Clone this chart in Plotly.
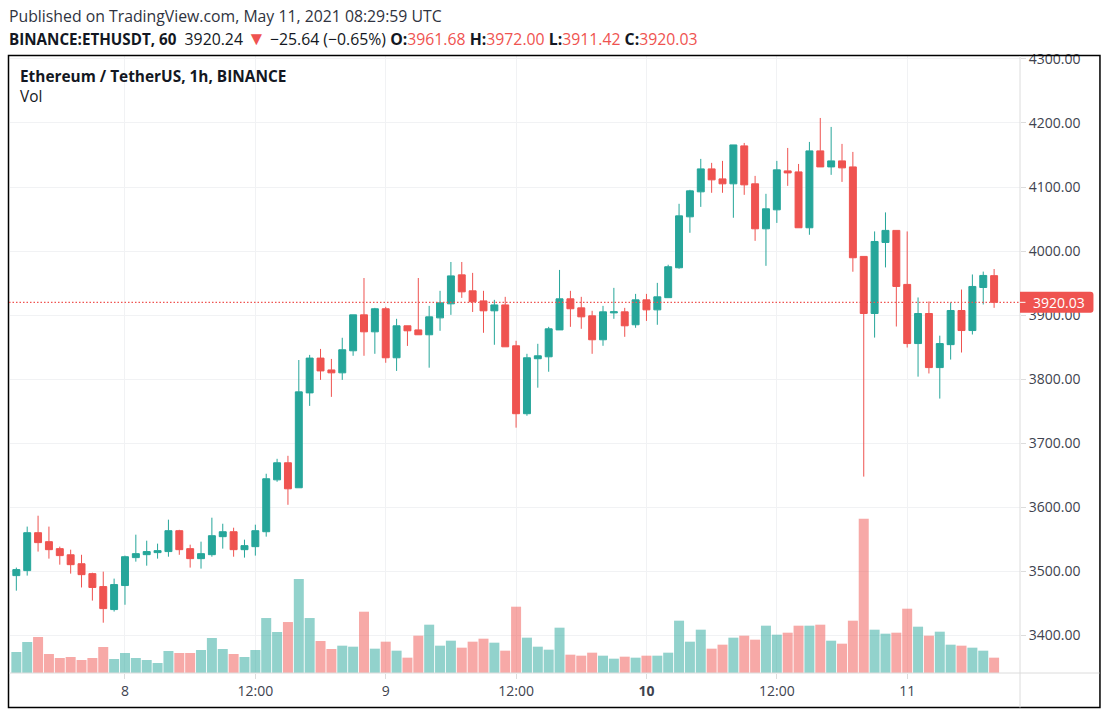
import pandas as pd
import plotly.graph_objects as go

UP = "#26a69a"
DOWN = "#ef5350"
GRID = "#f1f2f4"
AXIS = "#dcdcdc"
TEXT = "#131722"
FONT = "Open Sans"

W, H = 1109, 717
LEFT, RIGHT, TOP, BOTTOM = 10, 1020.5, 56, 673.5

# hourly candles
start = "2021-05-07 14:00"
opens = [
    3493.5, 3501.3, 3560.5, 3546.5, 3535.6, 3526.0, 3512.0, 3496.6, 3476.4, 3440.5,
    3478.0, 3521.6, 3526.2, 3529.4, 3531.0, 3563.6, 3535.6, 3520.0, 3526.2, 3554.3,
    3562.0, 3534.0, 3538.7, 3562.0, 3643.0, 3669.6, 3630.6, 3778.7, 3833.0, 3814.5,
    3810.0, 3844.4, 3900.5, 3874.0, 3910.0, 3833.5, 3883.4, 3877.0, 3869.4, 3895.8,
    3917.7, 3962.9, 3938.0, 3922.3, 3906.8, 3916.0, 3852.2, 3746.2, 3832.0, 3835.0,
    3877.0, 3925.5, 3911.4, 3899.0, 3861.6, 3903.6, 3905.2, 3885.0, 3923.9, 3908.3,
    3927.3, 3974.0, 4053.5, 4092.5, 4128.3, 4112.7, 4105.0, 4164.2, 4105.0, 4034.8,
    4064.4, 4125.2, 4123.6, 4036.4, 4156.4, 4131.4, 4140.8, 4131.4, 3991.7, 3902.6,
    4013.5, 4032.3, 3948.0, 3855.7, 3902.6, 3818.2, 3854.0, 3907.3, 3876.0, 3943.2,
    3961.68,
]
highs = [
    3506.0, 3570.0, 3587.0, 3570.0, 3538.7, 3534.0, 3526.0, 3498.0, 3499.7, 3488.8,
    3524.7, 3557.4, 3548.0, 3543.4, 3580.8, 3565.0, 3541.8, 3546.5, 3583.9, 3574.5,
    3568.3, 3549.6, 3573.0, 3652.5, 3675.8, 3680.5, 3830.0, 3838.0, 3847.3, 3831.7,
    3864.7, 3900.5, 3958.0, 3911.4, 3913.0, 3894.3, 3883.4, 3958.0, 3914.5, 3938.0,
    3983.0, 3983.0, 3966.0, 3938.0, 3923.9, 3928.6, 3860.0, 3839.7, 3855.3, 3881.8,
    3970.6, 3938.0, 3928.6, 3906.8, 3914.5, 3942.6, 3911.4, 3933.2, 3933.2, 3950.4,
    3978.7, 4073.8, 4095.6, 4143.9, 4137.7, 4140.8, 4165.7, 4168.8, 4117.4, 4089.4,
    4140.8, 4161.0, 4136.0, 4170.4, 4207.8, 4193.8, 4167.3, 4154.8, 3991.7, 4030.7,
    4060.4, 4032.3, 4030.7, 3927.6, 3921.4, 3868.0, 3919.8, 3940.0, 3963.5, 3968.0,
    3972.0,
]
lows = [
    3470.0, 3493.5, 3531.0, 3520.0, 3510.6, 3496.6, 3475.0, 3454.5, 3420.0, 3437.4,
    3448.0, 3515.3, 3509.0, 3520.0, 3523.0, 3526.0, 3506.0, 3504.4, 3523.0, 3535.6,
    3523.0, 3521.6, 3524.7, 3554.3, 3640.0, 3604.0, 3630.6, 3758.4, 3799.0, 3772.5,
    3799.0, 3836.6, 3836.6, 3839.7, 3825.7, 3813.0, 3852.0, 3869.4, 3818.0, 3875.6,
    3900.5, 3927.0, 3905.0, 3872.5, 3853.8, 3850.6, 3724.4, 3743.0, 3786.8, 3811.7,
    3877.0, 3881.8, 3878.7, 3839.7, 3852.2, 3894.3, 3866.2, 3880.3, 3891.0, 3885.0,
    3927.3, 3972.5, 4028.6, 4069.0, 4091.0, 4091.0, 4052.0, 4087.8, 4016.0, 3977.0,
    4044.0, 4101.8, 4036.4, 4025.5, 4131.4, 4119.0, 4108.0, 3967.8, 3648.0, 3865.0,
    3974.5, 3882.3, 3849.5, 3804.0, 3809.0, 3769.8, 3830.7, 3841.7, 3869.8, 3916.7,
    3911.42,
]
closes = [
    3502.9, 3560.5, 3545.0, 3534.0, 3524.7, 3510.6, 3495.0, 3475.0, 3442.0, 3479.5,
    3523.0, 3527.8, 3531.0, 3532.5, 3563.6, 3534.0, 3520.0, 3527.8, 3555.8, 3562.0,
    3534.0, 3540.3, 3563.6, 3644.7, 3669.6, 3629.0, 3780.3, 3833.0, 3813.0, 3810.0,
    3846.0, 3900.5, 3874.0, 3910.0, 3833.5, 3883.4, 3875.6, 3869.4, 3897.4, 3919.2,
    3961.3, 3936.4, 3920.8, 3906.8, 3916.0, 3850.6, 3746.2, 3833.5, 3836.6, 3878.7,
    3925.5, 3910.0, 3897.4, 3861.6, 3905.2, 3905.2, 3883.4, 3923.9, 3908.3, 3928.6,
    3975.6, 4055.0, 4094.0, 4128.3, 4111.2, 4105.0, 4165.7, 4103.4, 4034.8, 4066.0,
    4126.8, 4122.0, 4036.4, 4156.4, 4131.4, 4140.8, 4129.9, 3989.6, 3902.6, 4015.0,
    4032.3, 3944.8, 3855.7, 3902.6, 3818.2, 3855.7, 3907.3, 3876.0, 3944.8, 3962.0,
    3920.03,
]
# volume only has a relative scale on the chart, so these are relative units
volumes = [
    63, 93, 108, 57, 45, 48, 39, 45, 78, 42,
    60, 45, 39, 30, 66, 60, 60, 69, 105, 72,
    57, 48, 69, 165, 123, 153, 282, 165, 96, 72,
    82, 79, 184, 73, 94, 67, 46, 112, 145, 82,
    97, 76, 94, 103, 91, 67, 199, 106, 79, 70,
    136, 55, 52, 61, 52, 43, 49, 46, 52, 52,
    61, 157, 94, 130, 73, 85, 106, 112, 100, 142,
    115, 121, 142, 142, 145, 97, 88, 157, 463, 130,
    118, 121, 193, 139, 112, 124, 85, 82, 76, 67,
    46,
]
last_price = 3920.03

tick_dates = ["2021-05-08 00:00", "2021-05-08 12:00", "2021-05-09 00:00", "2021-05-09 12:00",
              "2021-05-10 00:00", "2021-05-10 12:00", "2021-05-11 00:00"]
tick_text = ["8", "12:00", "9", "12:00", "<b>10</b>", "12:00", "11"]
price_ticks = [3400, 3500, 3600, 3700, 3800, 3900, 4000, 4100, 4200, 4300]

dates = pd.date_range(start, periods=len(opens), freq="h")
x_range = [dates[0] - pd.Timedelta(minutes=35), dates[-1] + pd.Timedelta(minutes=143)]
vol_colors = [
    "rgba(38,166,154,0.5)" if c >= o else "rgba(239,83,80,0.5)"
    for o, c in zip(opens, closes)
]


def px(x):
    return (x - LEFT) / (RIGHT - LEFT)


def py(y):
    return (BOTTOM - y) / (BOTTOM - TOP)


def label(text, x, y, size=15.4, **kw):
    return dict(text=text, x=px(x), y=py(y), xref="paper", yref="paper", xanchor="left",
                yanchor="middle", showarrow=False, align="left",
                font=dict(family=FONT, size=size, color=kw.pop("color", TEXT)), **kw)


def red(s):
    return f'<span style="color:{DOWN}">{s}</span>'


# price tag on the scale, square on the left and slightly rounded on the right
tag_x0, tag_x1, tag_r = px(1020.5), px(1094), 3 / (RIGHT - LEFT)
tag_y0, tag_y1, tag_ry = py(313), py(292), 3 / (BOTTOM - TOP)
tag_path = (
    f"M {tag_x0} {tag_y0} L {tag_x1 - tag_r} {tag_y0} Q {tag_x1} {tag_y0} {tag_x1} {tag_y0 + tag_ry} "
    f"L {tag_x1} {tag_y1 - tag_ry} Q {tag_x1} {tag_y1} {tag_x1 - tag_r} {tag_y1} L {tag_x0} {tag_y1} Z"
)

fig = go.Figure()
fig.add_trace(go.Bar(x=dates, y=volumes, marker=dict(color=vol_colors, line_width=0),
                     yaxis="y2", hoverinfo="skip"))
fig.add_trace(go.Candlestick(
    x=dates, open=opens, high=highs, low=lows, close=closes, whiskerwidth=0,
    increasing=dict(line=dict(color=UP, width=1), fillcolor=UP),
    decreasing=dict(line=dict(color=DOWN, width=1), fillcolor=DOWN),
))

line2 = (
    '<span style="font-size:15.2px"><b>BINANCE:ETHUSDT, 60</b></span>  3920.24 '
    + f'<span style="color:{DOWN};font-size:19px">▼</span>'
    + " −25.64 (−0.65%) "
    + "<b>O:</b>" + red("3961.68") + " <b>H:</b>" + red("3972.00")
    + " <b>L:</b>" + red("3911.42") + " <b>C:</b>" + red("3920.03")
)

fig.update_layout(
    width=W,
    height=H,
    autosize=False,
    paper_bgcolor="white",
    plot_bgcolor="white",
    showlegend=False,
    margin=dict(l=LEFT, r=W - RIGHT, t=TOP, b=H - BOTTOM, pad=0),
    bargap=0.08,
    boxgap=0.2,
    boxgroupgap=0.2,
    font=dict(family=FONT, color=TEXT),
    xaxis=dict(
        type="date", range=x_range, rangeslider=dict(visible=False),
        tickmode="array", tickvals=tick_dates, ticktext=tick_text,
        ticks="outside", ticklen=5, tickcolor=AXIS, tickfont=dict(size=14, color="#40434f"),
        showgrid=True, gridcolor=GRID, gridwidth=1, showline=False, zeroline=False,
    ),
    yaxis=dict(
        side="right", range=[3341.5, 4304.5], tickmode="array", tickvals=price_ticks,
        tickformat=".2f", ticks="outside", ticklen=5, tickcolor=AXIS,
        tickfont=dict(size=14, color="#40434f"),
        showgrid=True, gridcolor=GRID, gridwidth=1, showline=False, zeroline=False,
    ),
    yaxis2=dict(overlaying="y", range=[0, 1852], visible=False, fixedrange=True),
    shapes=[
        # outer frame and the two scale lines
        dict(type="rect", xref="paper", yref="paper", x0=px(8.5), x1=px(1100.5), y0=py(708),
             y1=py(55.5), line=dict(color="black", width=1.5), layer="above"),
        dict(type="line", xref="paper", yref="paper", x0=px(9), x1=px(1100), y0=0, y1=0,
             line=dict(color=AXIS, width=1)),
        dict(type="line", xref="paper", yref="paper", x0=1, x1=1, y0=py(708), y1=py(56),
             line=dict(color=AXIS, width=1)),
        # last price line and its tag
        dict(type="line", xref="paper", yref="y", x0=px(9), x1=1, y0=last_price, y1=last_price,
             line=dict(color=DOWN, width=1.2, dash="1.5px,2px")),
        dict(type="path", xref="paper", yref="paper", path=tag_path, fillcolor=DOWN,
             line=dict(width=0), layer="above"),
        dict(type="line", xref="paper", yref="y", x0=1, x1=px(1026), y0=last_price, y1=last_price,
             line=dict(color="white", width=1), layer="above"),
    ],
    annotations=[
        label("Published on TradingView.com, May 11, 2021 08:29:59 UTC", 7, 16, size=15.8, color="#2f3340"),
        label(line2, 7, 38, size=15.8),
        label("<b>Ethereum / TetherUS, 1h, BINANCE</b>", 18, 77),
        label("Vol", 18, 97),
        dict(text="3920.03", x=px(1032), y=last_price, xref="paper", yref="y", xanchor="left",
             yanchor="middle", showarrow=False, align="left",
             font=dict(family=FONT, size=14, color="white")),
    ],
)

fig.write_html("out.html", config=dict(displayModeBar=False),
               post_script="document.body.style.margin='0';")
